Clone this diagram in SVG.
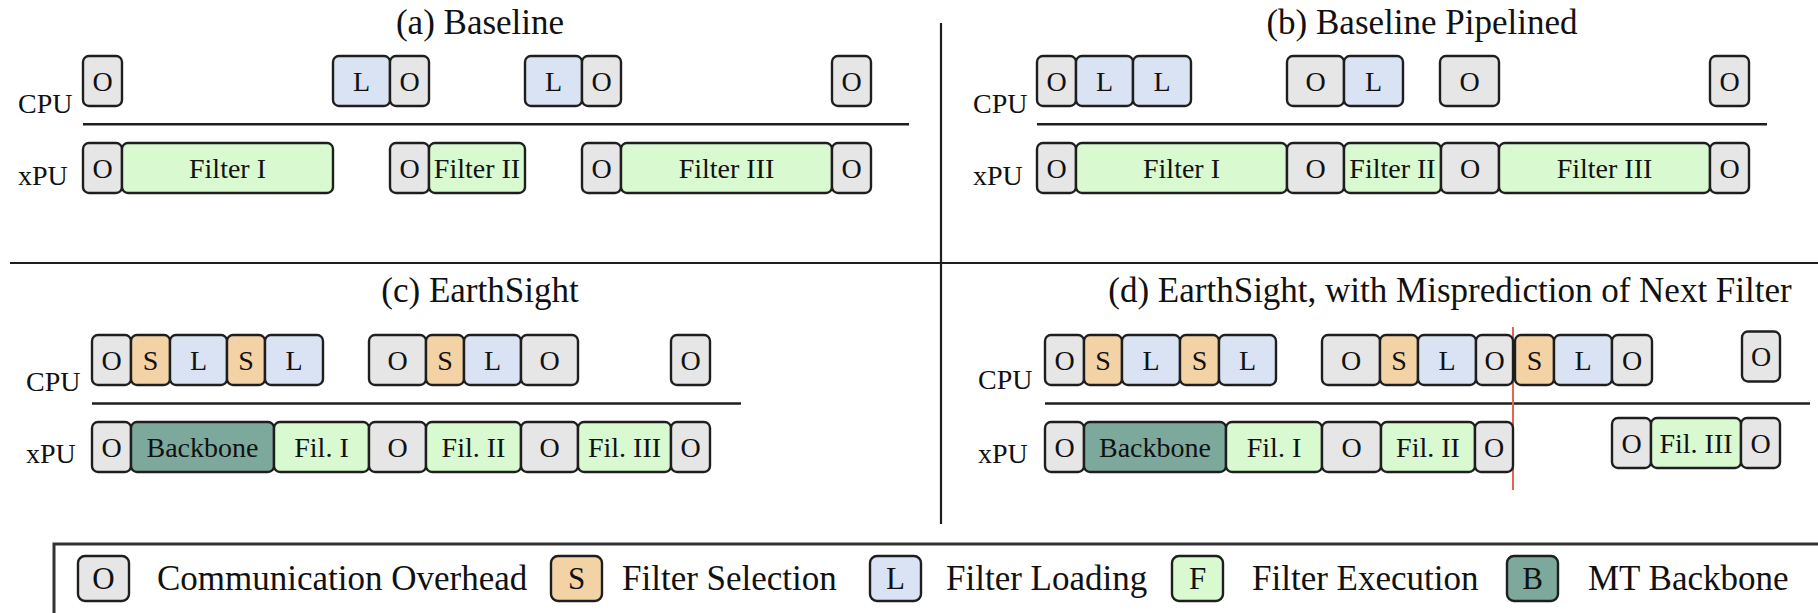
<svg xmlns="http://www.w3.org/2000/svg" width="1818" height="613" viewBox="0 0 1818 613">
  <style>
    text { font-family: "Liberation Serif", "Times New Roman", serif; fill: #111; }
    .t { font-size: 28px; text-anchor: middle; }
    .lab { font-size: 28px; text-anchor: start; }
    .ttl { font-size: 35px; text-anchor: middle; }
    .lg { font-size: 35px; text-anchor: start; }
    .lk { font-size: 31px; text-anchor: middle; }
    rect.box { stroke: #1e1e1e; stroke-width: 2.4; }
    .o { fill: #e6e6e6; }
    .l { fill: #dae3f3; }
    .s { fill: #f3d2a6; }
    .f { fill: #d9f9d1; }
    .b { fill: #7da99c; }
    .axis { stroke: #1e1e1e; stroke-width: 2.5; }
    .div { stroke: #1e1e1e; stroke-width: 2.2; }
  </style>

  <!-- dividers and timeline axes -->
  <g id="connectors">
    <line class="div" x1="941" y1="23" x2="941" y2="524"/>
    <line class="div" x1="10" y1="263" x2="1818" y2="263"/>
    <line class="axis" x1="83" y1="124.3" x2="909" y2="124.3"/>
    <line class="axis" x1="1037" y1="124.3" x2="1767" y2="124.3"/>
    <line class="axis" x1="92" y1="403.5" x2="741" y2="403.5"/>
    <line class="axis" x1="1045" y1="403.5" x2="1810" y2="403.5"/>
    <line x1="1513" y1="327" x2="1513" y2="490" stroke="#e2654f" stroke-width="2"/>
  </g>

  <!-- (a) Baseline -->
  <g id="panel-a">
    <text class="ttl" x="480" y="34">(a) Baseline</text>
    <text class="lab" x="18" y="113">CPU</text>
    <text class="lab" x="18" y="185">xPU</text>
    <g id="a-cpu-1"><rect class="box o" rx="6" x="83" y="56" width="39" height="50"/><text class="t" x="102.5" y="90.5">O</text></g>
    <g id="a-cpu-2"><rect class="box l" rx="6" x="333" y="56" width="57" height="50"/><text class="t" x="361.5" y="90.5">L</text></g>
    <g id="a-cpu-3"><rect class="box o" rx="6" x="390" y="56" width="39" height="50"/><text class="t" x="409.5" y="90.5">O</text></g>
    <g id="a-cpu-4"><rect class="box l" rx="6" x="525" y="56" width="57" height="50"/><text class="t" x="553.5" y="90.5">L</text></g>
    <g id="a-cpu-5"><rect class="box o" rx="6" x="582" y="56" width="39" height="50"/><text class="t" x="601.5" y="90.5">O</text></g>
    <g id="a-cpu-6"><rect class="box o" rx="6" x="832" y="56" width="39" height="50"/><text class="t" x="851.5" y="90.5">O</text></g>
    <g id="a-xpu-1"><rect class="box o" rx="6" x="83" y="143" width="39" height="50"/><text class="t" x="102.5" y="177.5">O</text></g>
    <g id="a-xpu-2"><rect class="box f" rx="6" x="122" y="143" width="211" height="50"/><text class="t" x="227.5" y="177.5">Filter I</text></g>
    <g id="a-xpu-3"><rect class="box o" rx="6" x="390" y="143" width="39" height="50"/><text class="t" x="409.5" y="177.5">O</text></g>
    <g id="a-xpu-4"><rect class="box f" rx="6" x="429" y="143" width="96" height="50"/><text class="t" x="477" y="177.5">Filter II</text></g>
    <g id="a-xpu-5"><rect class="box o" rx="6" x="582" y="143" width="39" height="50"/><text class="t" x="601.5" y="177.5">O</text></g>
    <g id="a-xpu-6"><rect class="box f" rx="6" x="621" y="143" width="211" height="50"/><text class="t" x="726.5" y="177.5">Filter III</text></g>
    <g id="a-xpu-7"><rect class="box o" rx="6" x="832" y="143" width="39" height="50"/><text class="t" x="851.5" y="177.5">O</text></g>
  </g>

  <!-- (b) Baseline Pipelined -->
  <g id="panel-b">
    <text class="ttl" x="1422" y="34">(b) Baseline Pipelined</text>
    <text class="lab" x="973" y="113">CPU</text>
    <text class="lab" x="973" y="185">xPU</text>
    <g id="b-cpu-1"><rect class="box o" rx="6" x="1037" y="56" width="39" height="50"/><text class="t" x="1056.5" y="90.5">O</text></g>
    <g id="b-cpu-2"><rect class="box l" rx="6" x="1076" y="56" width="57" height="50"/><text class="t" x="1104.5" y="90.5">L</text></g>
    <g id="b-cpu-3"><rect class="box l" rx="6" x="1133" y="56" width="58" height="50"/><text class="t" x="1162" y="90.5">L</text></g>
    <g id="b-cpu-4"><rect class="box o" rx="6" x="1287" y="56" width="57" height="50"/><text class="t" x="1315.5" y="90.5">O</text></g>
    <g id="b-cpu-5"><rect class="box l" rx="6" x="1344" y="56" width="59" height="50"/><text class="t" x="1373.5" y="90.5">L</text></g>
    <g id="b-cpu-6"><rect class="box o" rx="6" x="1440" y="56" width="59" height="50"/><text class="t" x="1469.5" y="90.5">O</text></g>
    <g id="b-cpu-7"><rect class="box o" rx="6" x="1710" y="56" width="39" height="50"/><text class="t" x="1729.5" y="90.5">O</text></g>
    <g id="b-xpu-1"><rect class="box o" rx="6" x="1037" y="143" width="39" height="50"/><text class="t" x="1056.5" y="177.5">O</text></g>
    <g id="b-xpu-2"><rect class="box f" rx="6" x="1076" y="143" width="211" height="50"/><text class="t" x="1181.5" y="177.5">Filter I</text></g>
    <g id="b-xpu-3"><rect class="box o" rx="6" x="1287" y="143" width="57" height="50"/><text class="t" x="1315.5" y="177.5">O</text></g>
    <g id="b-xpu-4"><rect class="box f" rx="6" x="1344" y="143" width="97" height="50"/><text class="t" x="1392.5" y="177.5">Filter II</text></g>
    <g id="b-xpu-5"><rect class="box o" rx="6" x="1441" y="143" width="58" height="50"/><text class="t" x="1470" y="177.5">O</text></g>
    <g id="b-xpu-6"><rect class="box f" rx="6" x="1499" y="143" width="211" height="50"/><text class="t" x="1604.5" y="177.5">Filter III</text></g>
    <g id="b-xpu-7"><rect class="box o" rx="6" x="1710" y="143" width="39" height="50"/><text class="t" x="1729.5" y="177.5">O</text></g>
  </g>

  <!-- (c) EarthSight -->
  <g id="panel-c">
    <text class="ttl" x="480" y="302">(c) EarthSight</text>
    <text class="lab" x="26" y="391">CPU</text>
    <text class="lab" x="26" y="463">xPU</text>
    <g id="c-cpu-1"><rect class="box o" rx="6" x="92" y="335" width="39" height="50"/><text class="t" x="111.5" y="369.5">O</text></g>
    <g id="c-cpu-2"><rect class="box s" rx="6" x="131" y="335" width="39" height="50"/><text class="t" x="150.5" y="369.5">S</text></g>
    <g id="c-cpu-3"><rect class="box l" rx="6" x="170" y="335" width="57" height="50"/><text class="t" x="198.5" y="369.5">L</text></g>
    <g id="c-cpu-4"><rect class="box s" rx="6" x="227" y="335" width="38" height="50"/><text class="t" x="246" y="369.5">S</text></g>
    <g id="c-cpu-5"><rect class="box l" rx="6" x="265" y="335" width="58" height="50"/><text class="t" x="294" y="369.5">L</text></g>
    <g id="c-cpu-6"><rect class="box o" rx="6" x="369" y="335" width="57" height="50"/><text class="t" x="397.5" y="369.5">O</text></g>
    <g id="c-cpu-7"><rect class="box s" rx="6" x="426" y="335" width="38" height="50"/><text class="t" x="445" y="369.5">S</text></g>
    <g id="c-cpu-8"><rect class="box l" rx="6" x="464" y="335" width="57" height="50"/><text class="t" x="492.5" y="369.5">L</text></g>
    <g id="c-cpu-9"><rect class="box o" rx="6" x="521" y="335" width="57" height="50"/><text class="t" x="549.5" y="369.5">O</text></g>
    <g id="c-cpu-10"><rect class="box o" rx="6" x="671" y="335" width="39" height="50"/><text class="t" x="690.5" y="369.5">O</text></g>
    <g id="c-xpu-1"><rect class="box o" rx="6" x="92" y="422" width="39" height="50"/><text class="t" x="111.5" y="456.5">O</text></g>
    <g id="c-xpu-2"><rect class="box b" rx="6" x="131" y="422" width="143" height="50"/><text class="t" x="202.5" y="456.5">Backbone</text></g>
    <g id="c-xpu-3"><rect class="box f" rx="6" x="274" y="422" width="95" height="50"/><text class="t" x="321.5" y="456.5">Fil. I</text></g>
    <g id="c-xpu-4"><rect class="box o" rx="6" x="369" y="422" width="57" height="50"/><text class="t" x="397.5" y="456.5">O</text></g>
    <g id="c-xpu-5"><rect class="box f" rx="6" x="426" y="422" width="95" height="50"/><text class="t" x="473.5" y="456.5">Fil. II</text></g>
    <g id="c-xpu-6"><rect class="box o" rx="6" x="521" y="422" width="57" height="50"/><text class="t" x="549.5" y="456.5">O</text></g>
    <g id="c-xpu-7"><rect class="box f" rx="6" x="578" y="422" width="93" height="50"/><text class="t" x="624.5" y="456.5">Fil. III</text></g>
    <g id="c-xpu-8"><rect class="box o" rx="6" x="671" y="422" width="39" height="50"/><text class="t" x="690.5" y="456.5">O</text></g>
  </g>

  <!-- (d) EarthSight, with misprediction -->
  <g id="panel-d">
    <text class="ttl" x="1450" y="302">(d) EarthSight, with Misprediction of Next Filter</text>
    <text class="lab" x="978" y="389">CPU</text>
    <text class="lab" x="978" y="463">xPU</text>
    <g id="d-cpu-1"><rect class="box o" rx="6" x="1045" y="335" width="39" height="50"/><text class="t" x="1064.5" y="369.5">O</text></g>
    <g id="d-cpu-2"><rect class="box s" rx="6" x="1084" y="335" width="38" height="50"/><text class="t" x="1103" y="369.5">S</text></g>
    <g id="d-cpu-3"><rect class="box l" rx="6" x="1122" y="335" width="58" height="50"/><text class="t" x="1151" y="369.5">L</text></g>
    <g id="d-cpu-4"><rect class="box s" rx="6" x="1180" y="335" width="39" height="50"/><text class="t" x="1199.5" y="369.5">S</text></g>
    <g id="d-cpu-5"><rect class="box l" rx="6" x="1219" y="335" width="57" height="50"/><text class="t" x="1247.5" y="369.5">L</text></g>
    <g id="d-cpu-6"><rect class="box o" rx="6" x="1322" y="335" width="58" height="50"/><text class="t" x="1351" y="369.5">O</text></g>
    <g id="d-cpu-7"><rect class="box s" rx="6" x="1380" y="335" width="38" height="50"/><text class="t" x="1399" y="369.5">S</text></g>
    <g id="d-cpu-8"><rect class="box l" rx="6" x="1418" y="335" width="58" height="50"/><text class="t" x="1447" y="369.5">L</text></g>
    <g id="d-cpu-9"><rect class="box o" rx="6" x="1476" y="335" width="37" height="50"/><text class="t" x="1494.5" y="369.5">O</text></g>
    <g id="d-cpu-10"><rect class="box s" rx="6" x="1515" y="335" width="39" height="50"/><text class="t" x="1534.5" y="369.5">S</text></g>
    <g id="d-cpu-11"><rect class="box l" rx="6" x="1554" y="335" width="58" height="50"/><text class="t" x="1583" y="369.5">L</text></g>
    <g id="d-cpu-12"><rect class="box o" rx="6" x="1612" y="335" width="40" height="50"/><text class="t" x="1632" y="369.5">O</text></g>
    <g id="d-cpu-13"><rect class="box o" rx="6" x="1742" y="331.5" width="38" height="50"/><text class="t" x="1761" y="366">O</text></g>
    <g id="d-xpu-1"><rect class="box o" rx="6" x="1045" y="422" width="39" height="50"/><text class="t" x="1064.5" y="456.5">O</text></g>
    <g id="d-xpu-2"><rect class="box b" rx="6" x="1084" y="422" width="142" height="50"/><text class="t" x="1155" y="456.5">Backbone</text></g>
    <g id="d-xpu-3"><rect class="box f" rx="6" x="1226" y="422" width="96" height="50"/><text class="t" x="1274" y="456.5">Fil. I</text></g>
    <g id="d-xpu-4"><rect class="box o" rx="6" x="1322" y="422" width="59" height="50"/><text class="t" x="1351.5" y="456.5">O</text></g>
    <g id="d-xpu-5"><rect class="box f" rx="6" x="1381" y="422" width="94" height="50"/><text class="t" x="1428" y="456.5">Fil. II</text></g>
    <g id="d-xpu-6"><rect class="box o" rx="6" x="1475" y="422" width="38" height="50"/><text class="t" x="1494" y="456.5">O</text></g>
    <g id="d-xpu-7"><rect class="box o" rx="6" x="1612" y="418" width="39" height="50"/><text class="t" x="1631.5" y="452.5">O</text></g>
    <g id="d-xpu-8"><rect class="box f" rx="6" x="1651" y="418" width="90" height="50"/><text class="t" x="1696" y="452.5">Fil. III</text></g>
    <g id="d-xpu-9"><rect class="box o" rx="6" x="1741" y="418" width="39" height="50"/><text class="t" x="1760.5" y="452.5">O</text></g>
  </g>

  <!-- legend -->
  <g id="legend">
    <rect x="54" y="544" width="1800" height="120" fill="none" stroke="#333" stroke-width="3"/>
    <g id="key-o"><rect class="box o" rx="7" x="78" y="556" width="51" height="45"/><text class="lk" x="103.5" y="589">O</text><text class="lg" x="157" y="590">Communication Overhead</text></g>
    <g id="key-s"><rect class="box s" rx="7" x="551" y="556" width="51" height="45"/><text class="lk" x="576.5" y="589">S</text><text class="lg" x="622" y="590">Filter Selection</text></g>
    <g id="key-l"><rect class="box l" rx="7" x="870" y="556" width="51" height="45"/><text class="lk" x="895.5" y="589">L</text><text class="lg" x="946" y="590">Filter Loading</text></g>
    <g id="key-f"><rect class="box f" rx="7" x="1172" y="556" width="51" height="45"/><text class="lk" x="1197.5" y="589">F</text><text class="lg" x="1252" y="590">Filter Execution</text></g>
    <g id="key-b"><rect class="box b" rx="7" x="1507" y="556" width="51" height="45"/><text class="lk" x="1532.5" y="589">B</text><text class="lg" x="1588" y="590">MT Backbone</text></g>
  </g>
</svg>
